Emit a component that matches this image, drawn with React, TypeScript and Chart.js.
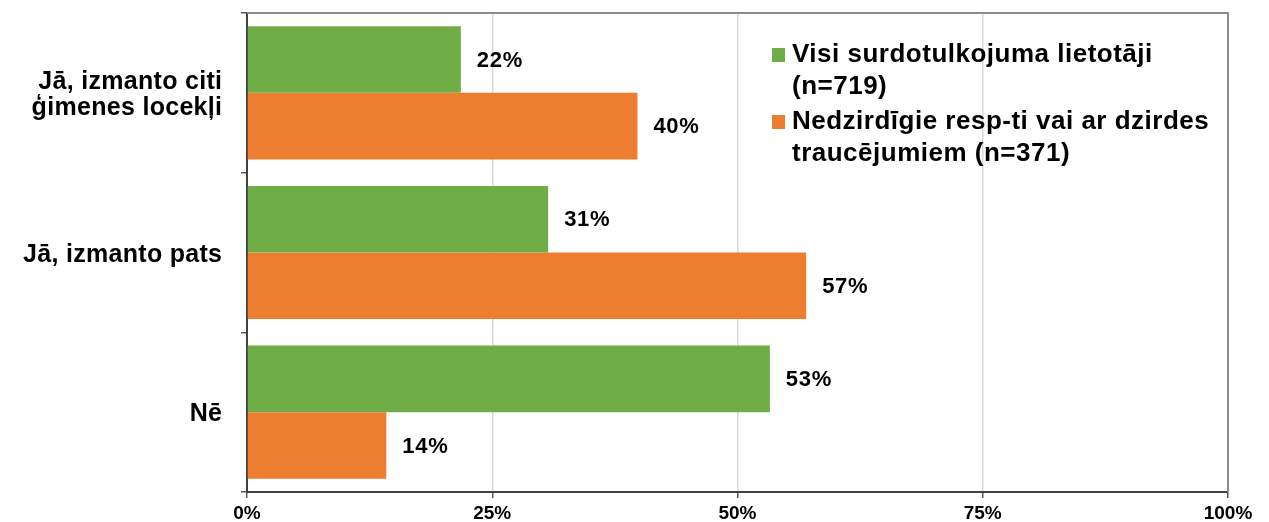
import React, { useEffect, useRef } from "react";
import { Chart, registerables } from "chart.js";

Chart.register(...registerables);

const categories: (string | string[])[] = [
  ["Jā, izmanto citi", "ģimenes locekļi"],
  "Jā, izmanto pats",
  "Nē",
];
const allUsers = [21.8, 30.7, 53.3];
const deafUsers = [39.8, 57.0, 14.2];
const seriesNames: string[][] = [
  ["Visi surdotulkojuma lietotāji", "(n=719)"],
  ["Nedzirdīgie resp-ti vai ar dzirdes", "traucējumiem (n=371)"],
];
const xTicks = [0, 25, 50, 75, 100];

const GREEN = "#70AD47";
const ORANGE = "#ED7D31";
const FONT = "'Liberation Sans', Arial, sans-serif";

const frameAndLabels = {
  id: "frameAndLabels",
  afterDatasetsDraw(chart: any) {
    const ctx = chart.ctx;
    ctx.save();
    ctx.font = `bold 22px ${FONT}`;
    (ctx as any).letterSpacing = "0.7px";
    ctx.fillStyle = "#000";
    ctx.textAlign = "left";
    ctx.textBaseline = "middle";
    chart.data.datasets.forEach((ds: any, i: number) => {
      const meta = chart.getDatasetMeta(i);
      meta.data.forEach((el: any, j: number) => {
        const v = ds.data[j] as number;
        ctx.fillText(`${Math.round(v)}%`, el.x + 16, el.y + 1);
      });
    });
    ctx.restore();
  },
  afterDraw(chart: any) {
    const ctx = chart.ctx;
    const a = chart.chartArea;
    ctx.save();
    ctx.strokeStyle = "#8c8c8c";
    ctx.lineWidth = 2;
    ctx.beginPath();
    ctx.moveTo(a.left, a.top);
    ctx.lineTo(a.right, a.top);
    ctx.lineTo(a.right, a.bottom);
    ctx.stroke();

    // category labels of the y axis
    const yScale = chart.scales.y;
    ctx.font = `bold 25px ${FONT}`;
    (ctx as any).letterSpacing = "0.3px";
    ctx.fillStyle = "#000";
    ctx.textAlign = "right";
    ctx.textBaseline = "alphabetic";
    (chart.data.labels as any[]).forEach((lab, i) => {
      const lines: string[] = Array.isArray(lab) ? lab : [lab];
      const c = yScale.getPixelForTick(i);
      lines.forEach((t, k) => {
        const y = c + 9 + (k - (lines.length - 1) / 2) * 26;
        ctx.fillText(t, a.left - 25 + 0.3, y);
      });
    });

    // legend
    const colors = [GREEN, ORANGE];
    const lx = a.left + 525;
    const baseY = [a.top + 49, a.top + 116];
    ctx.font = `bold 26px ${FONT}`;
    (ctx as any).letterSpacing = "0.5px";
    ctx.textAlign = "left";
    seriesNames.forEach((lines, i) => {
      ctx.fillStyle = colors[i];
      ctx.fillRect(lx, baseY[i] - 14, 13, 14);
      ctx.fillStyle = "#000";
      lines.forEach((t, k) => {
        ctx.fillText(t, lx + 20, baseY[i] + k * 32);
      });
    });
    ctx.restore();
  },
};

export default function App() {
  const ref = useRef<HTMLCanvasElement | null>(null);
  useEffect(() => {
    if (!ref.current) return;
    const chart = new Chart(ref.current, {
      type: "bar",
      data: {
        labels: categories as any,
        datasets: [
          {
            label: seriesNames[0].join(" "),
            data: allUsers,
            backgroundColor: GREEN,
            categoryPercentage: 0.834,
            barPercentage: 1,
          },
          {
            label: seriesNames[1].join(" "),
            data: deafUsers,
            backgroundColor: ORANGE,
            categoryPercentage: 0.834,
            barPercentage: 1,
          },
        ],
      },
      options: {
        indexAxis: "y",
        responsive: false,
        animation: false,
        layout: { padding: { top: 13, right: 41, left: 0, bottom: 0 } },
        plugins: { legend: { display: false }, tooltip: { enabled: false } },
        scales: {
          x: {
            min: 0,
            max: 100,
            afterFit: (s: any) => {
              s.height = 30;
              s.paddingLeft = 0;
              s.paddingRight = 0;
            },
            afterBuildTicks: (s: any) => {
              s.ticks = xTicks.map((v) => ({ value: v }));
            },
            grid: {
              color: "#d9d9d9",
              lineWidth: 1.5,
              tickLength: 6,
              tickColor: "#595959",
              tickWidth: 1.5,
            },
            border: { color: "#404040", width: 2 },
            ticks: {
              callback: (v: any) => `${v}%`,
              color: "#000",
              font: { family: FONT, size: 19, weight: "bold" },
              padding: 4,
              maxRotation: 0,
            },
          },
          y: {
            afterFit: (s: any) => {
              s.width = 247;
              s.paddingTop = 0;
              s.paddingBottom = 0;
            },
            grid: {
              drawOnChartArea: false,
              drawTicks: true,
              tickLength: 6,
              color: "#595959",
              lineWidth: 1.5,
              offset: true,
            },
            border: { color: "#404040", width: 2 },
            ticks: {
              display: false,
            },
          },
        },
      },
      plugins: [frameAndLabels],
    });
    return () => chart.destroy();
  }, []);
  return (
    <div style={{ position: "absolute", left: 0, top: 0, width: 1269, height: 522, background: "#fff" }}>
      <canvas ref={ref} width={1269} height={522} />
    </div>
  );
}
